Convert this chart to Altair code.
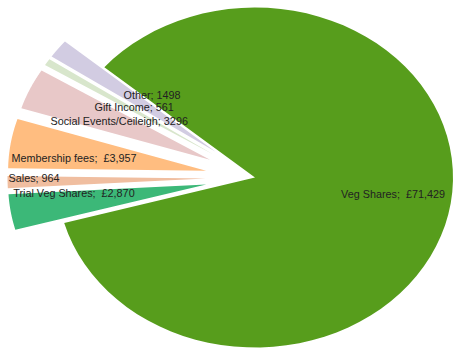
import altair as alt
import pandas as pd

# ---- data ----
categories = ["Trial Veg Shares", "Sales", "Membership fees", "Social Events/Ceileigh",
              "Gift Income", "Other", "Veg Shares"]
values = [2870, 964, 3957, 3296, 561, 1498, 71429]
label_texts = ["Trial Veg Shares;\u00a0 £2,870", "Sales; 964", "Membership fees;\u00a0 £3,957",
               "Social Events/Ceileigh; 3296", "Gift Income; 561", "Other; 1498",
               "Veg Shares;\u00a0 £71,429"]

# ---- styling / layout ----
colors = ["#3cb878", "#f0bea0", "#ffbd80", "#e8c8c8", "#d8e6cc", "#d2cce2", "#579d1c"]
explode = [0.25, 0.25, 0.25, 0.25, 0.25, 0.25, 0.0]
label_frac = [0.677, 0.866, 0.676, 0.505, 0.477, 0.403, 0.714]
label_dy = [-9, -2.5, 6.7, -2, -2.6, -14.4, -8.5]

W, H = 454, 349
CX, CY, RX, RY = 255, 177.5, 198, 170
START = 254.5  # degrees clockwise from 12 o'clock
N = 80

df = pd.DataFrame({
    "category": categories, "value": values, "label": label_texts,
    "order": list(range(len(categories))), "explode": explode,
    "lfrac": label_frac, "ldy": label_dy,
})

xs = alt.Scale(domain=[0, W], nice=False, zero=False)
ys = alt.Scale(domain=[0, H], nice=False, zero=False, reverse=True)

base = (
    alt.Chart(df)
    .transform_window(cum="sum(value)", sort=[alt.SortField("order")], frame=[None, 0])
    .transform_joinaggregate(total="sum(value)")
    .transform_calculate(a0=f"{START}*PI/180 + 2*PI*(datum.cum - datum.value)/datum.total")
    .transform_calculate(a1=f"{START}*PI/180 + 2*PI*datum.cum/datum.total")
    .transform_calculate(mid="(datum.a0 + datum.a1)/2")
    .transform_calculate(ox=f"{CX} + datum.explode*{RX}*sin(datum.mid)")
    .transform_calculate(oy=f"{CY} - datum.explode*{RY}*cos(datum.mid)")
)

slices = (
    base.transform_calculate(step=f"sequence(0, {N + 2})")
    .transform_flatten(["step"])
    .transform_calculate(t=f"clamp(datum.step - 1, 0, {N}) / {N}")
    .transform_calculate(ang="datum.a0 + (datum.a1 - datum.a0)*datum.t")
    .transform_calculate(px=f"datum.step == 0 ? datum.ox : datum.ox + {RX}*sin(datum.ang)")
    .transform_calculate(py=f"datum.step == 0 ? datum.oy : datum.oy - {RY}*cos(datum.ang)")
    .mark_line(filled=True, strokeWidth=0)
    .encode(
        x=alt.X("px:Q", scale=xs, axis=None),
        y=alt.Y("py:Q", scale=ys, axis=None),
        color=alt.Color("category:N", scale=alt.Scale(domain=categories, range=colors), legend=None),
        order=alt.Order("step:Q"),
        detail="category:N",
    )
)

labels = (
    base.transform_calculate(lx=f"datum.ox + datum.lfrac*{RX}*sin(datum.mid)")
    .transform_calculate(ly=f"datum.oy - datum.lfrac*{RY}*cos(datum.mid) + datum.ldy")
    .mark_text(font="Liberation Sans", fontSize=10.8, color="#222222",
               align="center", baseline="middle")
    .encode(
        x=alt.X("lx:Q", scale=xs, axis=None),
        y=alt.Y("ly:Q", scale=ys, axis=None),
        text="label:N",
    )
)

chart = (
    alt.layer(slices, labels)
    .properties(width=W, height=H, padding=0, autosize="none", background="white")
    .configure_view(stroke=None)
)

chart.save("out.html", embed_options={"renderer": "svg", "actions": False})
